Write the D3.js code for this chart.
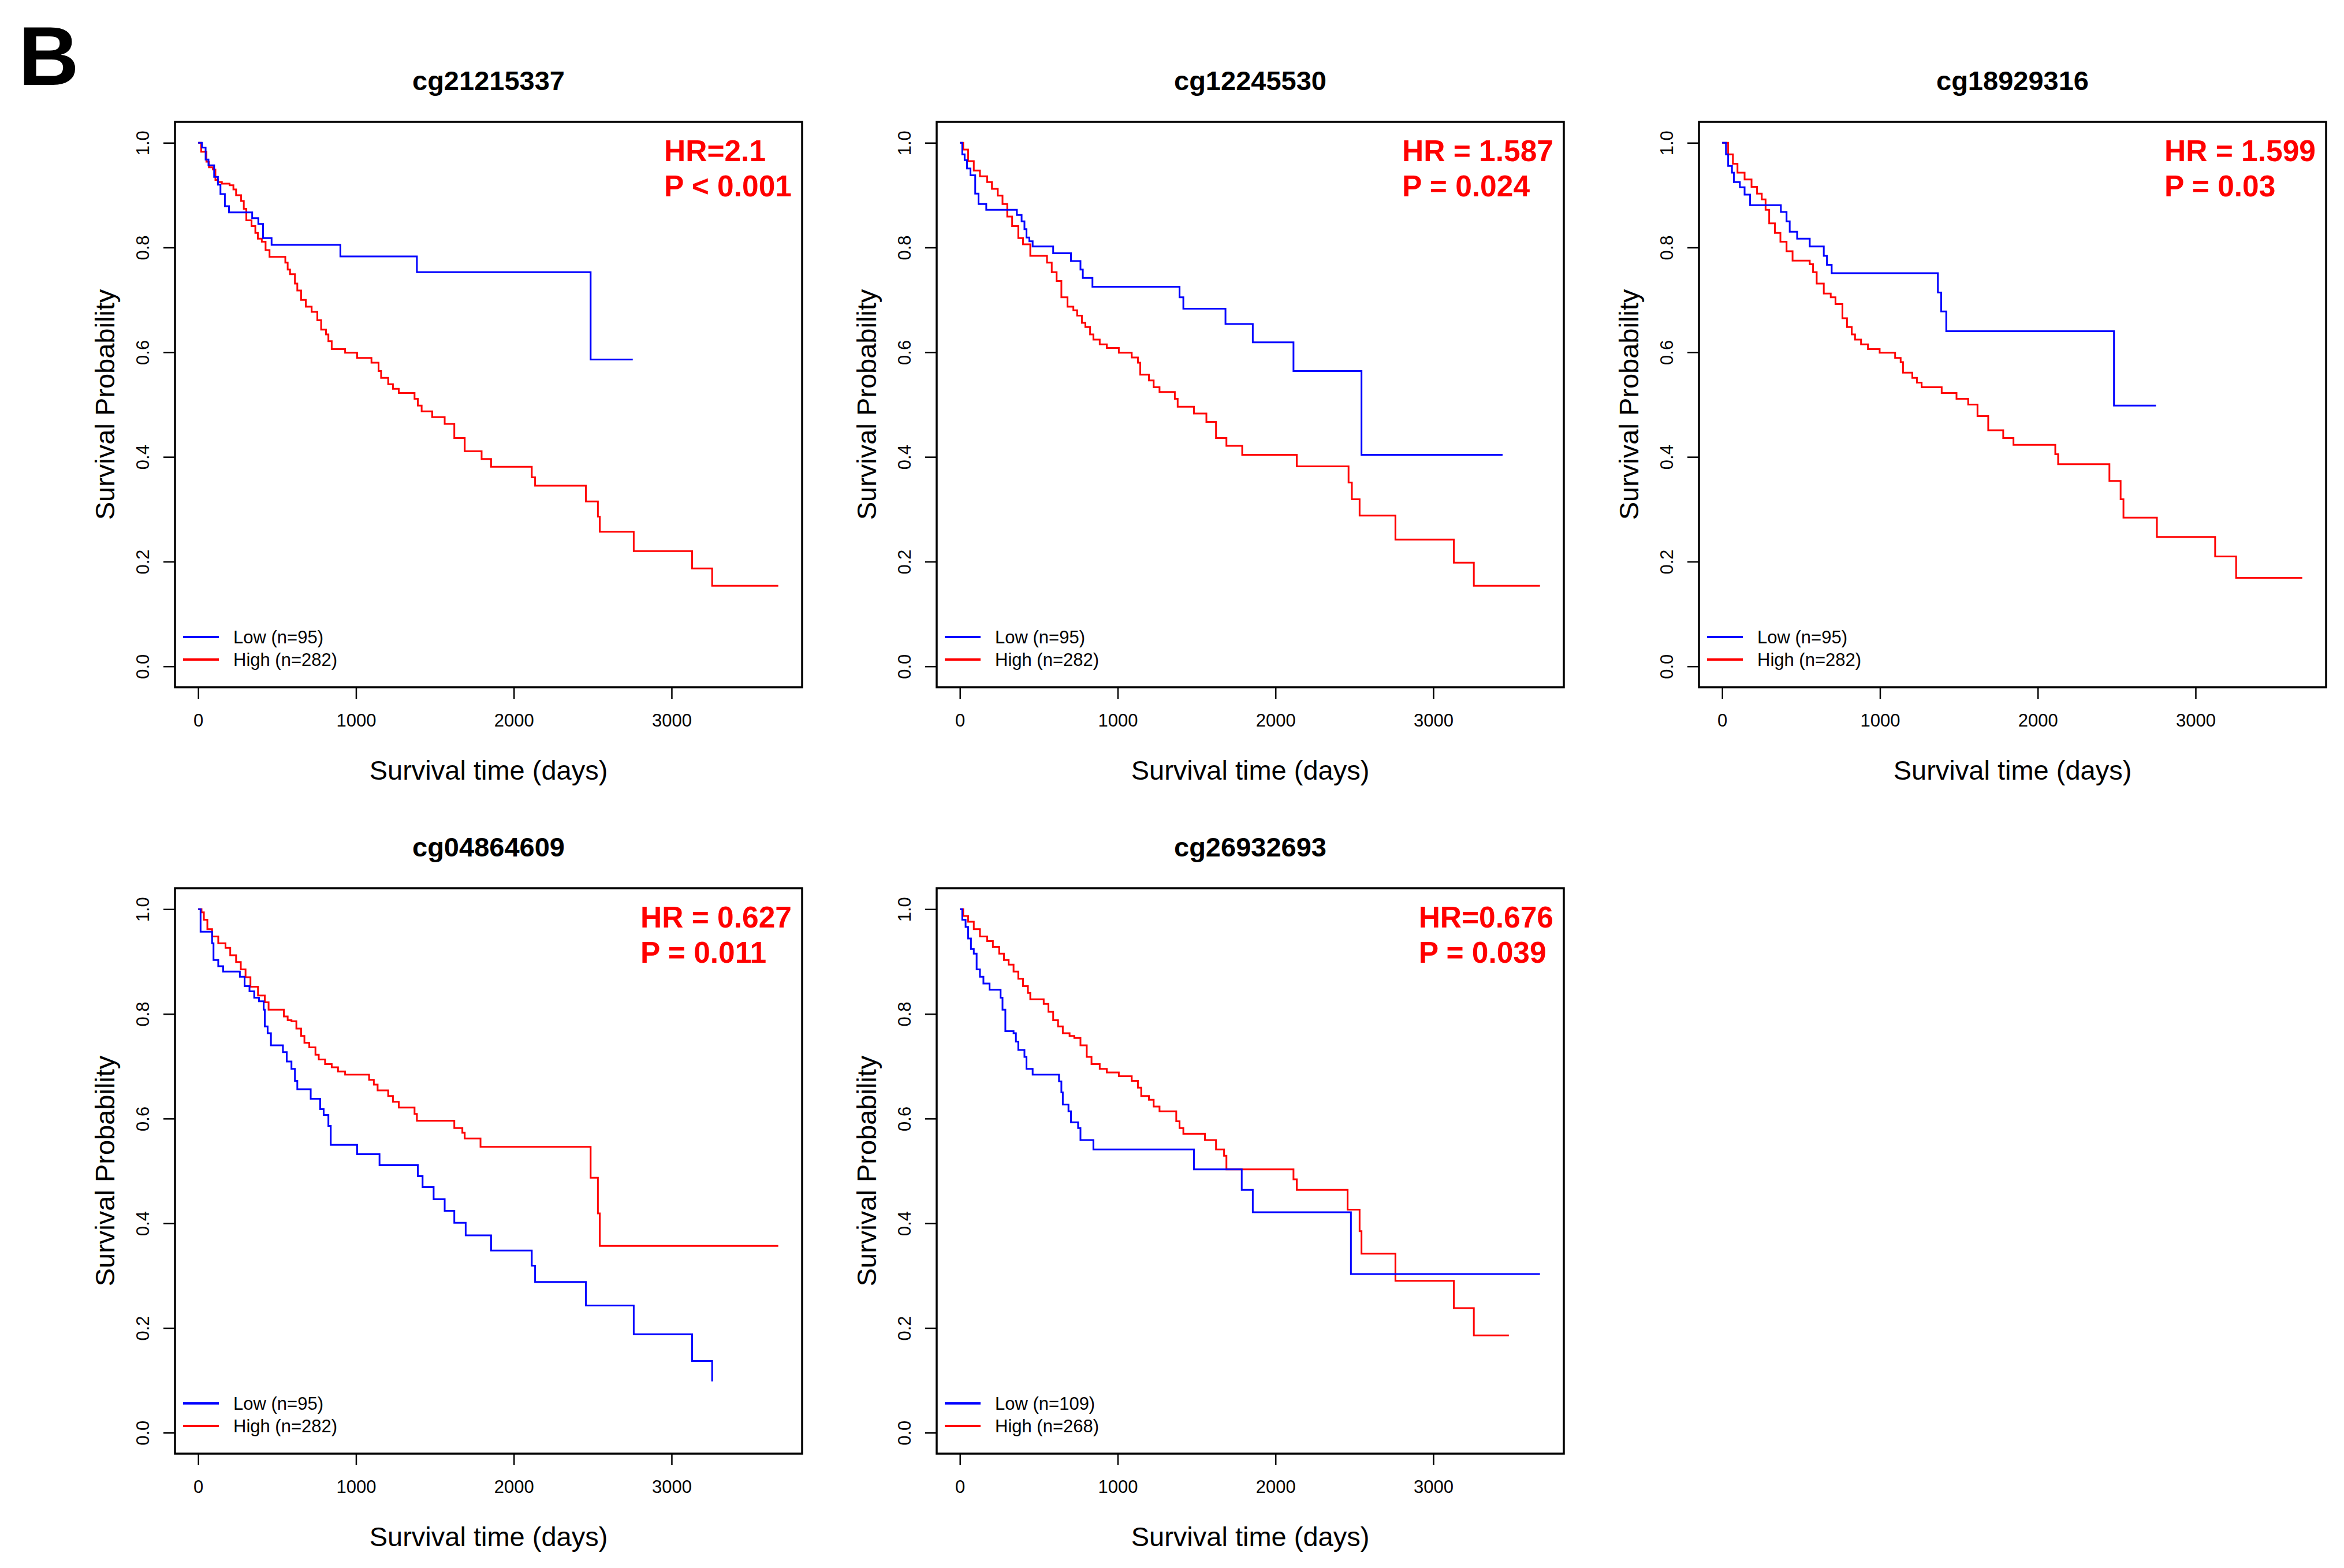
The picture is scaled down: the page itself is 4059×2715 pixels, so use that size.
<!DOCTYPE html>
<meta charset="utf-8">
<script src="https://cdn.jsdelivr.net/npm/d3@7"></script>
<style>
  body { margin: 0; background: #fff; }
  text { font-family: "Liberation Sans", Arial, Helvetica, sans-serif; }
</style>
<body>
<script>

// panel texts
var titles = ["cg21215337", "cg12245530", "cg18929316", "cg04864609", "cg26932693"]
var hrText = ["HR=2.1", "HR = 1.587", "HR = 1.599", "HR = 0.627", "HR=0.676"]
var pText = ["P < 0.001", "P = 0.024", "P = 0.03", "P = 0.011", "P = 0.039"]
var lowLabels = ["Low (n=95)", "Low (n=95)", "Low (n=95)", "Low (n=95)", "Low (n=109)"]
var highLabels = ["High (n=282)", "High (n=282)", "High (n=282)", "High (n=282)", "High (n=268)"]

var xTicks = [0, 1000, 2000, 3000]
var yTicks = [0, 0.2, 0.4, 0.6, 0.8, 1.0]

// Kaplan-Meier steps: drop times (days) and survival after each drop
var lowTimes = [
  [24, 47, 65, 101, 125, 141, 169, 195, 342, 381, 411, 465, 901, 1386, 2487],
  [15, 30, 45, 67, 97, 118, 167, 361, 391, 409, 422, 440, 461, 591, 704, 764, 779, 840, 1392, 1416, 1683, 1856, 2114, 2545],
  [24, 38, 62, 74, 112, 142, 177, 372, 408, 428, 475, 555, 644, 664, 694, 1367, 1388, 1420, 2483],
  [15, 88, 97, 127, 158, 264, 294, 325, 355, 385, 415, 422, 440, 461, 537, 561, 591, 613, 628, 713, 773, 795, 825, 840, 1007, 1149, 1392, 1422, 1492, 1562, 1623, 1695, 1856, 2114, 2135, 2457, 2760, 3130, 3257],
  [15, 36, 52, 70, 88, 106, 127, 149, 188, 258, 270, 288, 340, 355, 370, 409, 422, 461, 628, 643, 652, 688, 704, 749, 764, 846, 1483, 1786, 1856, 2478]
]
var lowSurv = [
  [0.991, 0.968, 0.957, 0.935, 0.92, 0.902, 0.879, 0.867, 0.856, 0.845, 0.818, 0.805, 0.783, 0.753, 0.586],
  [0.978, 0.967, 0.951, 0.938, 0.903, 0.883, 0.872, 0.862, 0.85, 0.835, 0.819, 0.812, 0.802, 0.789, 0.774, 0.758, 0.742, 0.725, 0.705, 0.683, 0.654, 0.619, 0.564, 0.404],
  [0.978, 0.956, 0.943, 0.925, 0.915, 0.901, 0.881, 0.868, 0.85, 0.83, 0.817, 0.802, 0.784, 0.767, 0.751, 0.714, 0.678, 0.64, 0.498],
  [0.957, 0.935, 0.903, 0.891, 0.881, 0.871, 0.853, 0.843, 0.831, 0.824, 0.808, 0.776, 0.763, 0.74, 0.727, 0.709, 0.695, 0.672, 0.656, 0.638, 0.618, 0.607, 0.586, 0.55, 0.532, 0.511, 0.49, 0.469, 0.446, 0.424, 0.401, 0.377, 0.348, 0.319, 0.288, 0.243, 0.188, 0.137, 0.098],
  [0.98, 0.966, 0.944, 0.924, 0.915, 0.885, 0.871, 0.858, 0.846, 0.831, 0.808, 0.767, 0.763, 0.747, 0.731, 0.718, 0.695, 0.684, 0.671, 0.65, 0.627, 0.614, 0.593, 0.582, 0.559, 0.541, 0.503, 0.464, 0.421, 0.303]
]
var lowEnd = [2754, 3439, 2749, 3257, 3676]

var highTimes = [
  [19, 52, 68, 93, 109, 125, 150, 199, 223, 240, 272, 289, 305, 338, 362, 378, 403, 427, 452, 552, 567, 582, 613, 628, 652, 682, 719, 755, 779, 810, 825, 846, 931, 1007, 1098, 1143, 1159, 1204, 1234, 1271, 1371, 1392, 1416, 1483, 1562, 1623, 1689, 1796, 1856, 2114, 2135, 2457, 2533, 2545, 2760, 3130, 3257],
  [21, 52, 88, 127, 173, 203, 240, 270, 300, 331, 370, 400, 446, 552, 582, 613, 643, 682, 719, 743, 773, 795, 825, 846, 886, 931, 1007, 1089, 1128, 1143, 1198, 1228, 1265, 1362, 1380, 1483, 1562, 1623, 1689, 1789, 2135, 2463, 2484, 2533, 2760, 3130, 3257],
  [38, 68, 97, 142, 186, 221, 251, 275, 298, 334, 369, 408, 446, 555, 576, 599, 644, 688, 718, 762, 791, 821, 842, 880, 924, 998, 1096, 1131, 1146, 1205, 1234, 1264, 1391, 1485, 1559, 1618, 1686, 1781, 1846, 2111, 2129, 2454, 2525, 2543, 2755, 3124, 3257],
  [21, 36, 58, 88, 127, 173, 203, 240, 270, 300, 331, 379, 422, 446, 543, 567, 591, 622, 652, 673, 704, 743, 764, 804, 846, 886, 931, 1083, 1113, 1137, 1204, 1234, 1271, 1371, 1386, 1623, 1674, 1689, 1789, 2487, 2533, 2545],
  [21, 52, 88, 127, 173, 209, 249, 279, 309, 340, 370, 400, 431, 446, 531, 561, 591, 622, 652, 695, 725, 764, 804, 834, 886, 931, 1007, 1089, 1128, 1149, 1198, 1228, 1265, 1371, 1392, 1416, 1553, 1623, 1674, 1689, 2114, 2135, 2457, 2533, 2545, 2760, 3130, 3257]
]
var highSurv = [
  [0.983, 0.964, 0.953, 0.949, 0.929, 0.925, 0.922, 0.919, 0.911, 0.9, 0.889, 0.874, 0.852, 0.841, 0.828, 0.817, 0.811, 0.795, 0.782, 0.771, 0.758, 0.749, 0.731, 0.718, 0.7, 0.687, 0.677, 0.661, 0.643, 0.634, 0.621, 0.606, 0.599, 0.589, 0.58, 0.564, 0.551, 0.539, 0.53, 0.522, 0.511, 0.498, 0.487, 0.476, 0.463, 0.436, 0.411, 0.396, 0.381, 0.361, 0.345, 0.315, 0.286, 0.257, 0.22, 0.187, 0.154],
  [0.987, 0.965, 0.947, 0.936, 0.925, 0.912, 0.899, 0.883, 0.859, 0.841, 0.818, 0.806, 0.784, 0.771, 0.753, 0.736, 0.705, 0.687, 0.68, 0.67, 0.656, 0.648, 0.634, 0.624, 0.615, 0.608, 0.599, 0.59, 0.58, 0.557, 0.546, 0.533, 0.524, 0.511, 0.496, 0.483, 0.467, 0.436, 0.421, 0.404, 0.382, 0.351, 0.319, 0.288, 0.242, 0.198, 0.154],
  [0.978, 0.96, 0.943, 0.93, 0.916, 0.903, 0.892, 0.872, 0.846, 0.828, 0.811, 0.793, 0.775, 0.768, 0.753, 0.731, 0.712, 0.705, 0.692, 0.665, 0.648, 0.634, 0.624, 0.615, 0.606, 0.599, 0.589, 0.581, 0.561, 0.551, 0.542, 0.533, 0.522, 0.511, 0.5, 0.478, 0.451, 0.436, 0.423, 0.405, 0.386, 0.354, 0.319, 0.284, 0.247, 0.21, 0.169],
  [0.994, 0.98, 0.962, 0.948, 0.935, 0.926, 0.912, 0.899, 0.885, 0.87, 0.852, 0.835, 0.822, 0.808, 0.795, 0.788, 0.786, 0.772, 0.758, 0.745, 0.736, 0.722, 0.713, 0.704, 0.698, 0.69, 0.684, 0.674, 0.665, 0.654, 0.643, 0.632, 0.621, 0.609, 0.596, 0.582, 0.573, 0.562, 0.546, 0.487, 0.419, 0.357],
  [0.987, 0.976, 0.962, 0.948, 0.939, 0.928, 0.915, 0.903, 0.894, 0.881, 0.867, 0.853, 0.84, 0.828, 0.819, 0.804, 0.788, 0.776, 0.763, 0.758, 0.754, 0.74, 0.718, 0.704, 0.695, 0.688, 0.681, 0.672, 0.659, 0.643, 0.636, 0.623, 0.614, 0.595, 0.582, 0.571, 0.559, 0.541, 0.529, 0.503, 0.484, 0.464, 0.426, 0.385, 0.342, 0.29, 0.238, 0.186]
]
var highEnd = [3676, 3676, 3676, 3676, 3479]

// layout
var W = 4059, H = 2715
var colLeft = [303, 1622, 2942]
var rowTop = [211, 1538]
var pw = 1086, ph = 979
var xMax = 3680
var lowColor = "#0000ff", highColor = "#ff0000"

var svg = d3.select("body").append("svg")
            .attr("width", W)
            .attr("height", H)
            .attr("viewBox", "0 0 " + W + " " + H)

svg.append("text")
   .attr("x", 32).attr("y", 147)
   .style("font-size", "145px").style("font-weight", "bold")
   .text("B")

var x = d3.scaleLinear().domain([-0.04 * xMax, 1.04 * xMax]).range([0, pw])
var y = d3.scaleLinear().domain([-0.04, 1.04]).range([ph, 0])

var line = d3.line()
             .x(function(d) { return x(d[0]) })
             .y(function(d) { return y(d[1]) })
             .curve(d3.curveStepAfter)

function kmPoints(times, surv, end) {
  var pts = [[0, 1]]
  times.forEach(function(t, i) { pts.push([t, surv[i]]) })
  pts.push([end, surv[surv.length - 1]])
  return pts
}

titles.forEach(function(title, i) {
  var g = svg.append("g")
             .attr("transform", "translate(" + colLeft[i % 3] + "," + rowTop[Math.floor(i / 3)] + ")")

  // curves
  g.append("path")
   .attr("d", line(kmPoints(highTimes[i], highSurv[i], highEnd[i])))
   .attr("fill", "none").attr("stroke", highColor).attr("stroke-width", 3)
  g.append("path")
   .attr("d", line(kmPoints(lowTimes[i], lowSurv[i], lowEnd[i])))
   .attr("fill", "none").attr("stroke", lowColor).attr("stroke-width", 3)

  // box
  g.append("rect")
   .attr("width", pw).attr("height", ph)
   .attr("fill", "none").attr("stroke", "#000").attr("stroke-width", 3.5)

  // x axis
  var xa = g.append("g")
            .attr("transform", "translate(0," + ph + ")")
            .call(d3.axisBottom(x).tickValues(xTicks).tickSize(20).tickFormat(d3.format("d")))
  xa.select(".domain").remove()
  xa.selectAll("line").attr("stroke-width", 2.5)
  xa.selectAll("text").attr("y", 68).attr("dy", null)
    .style("font-size", "31px").style("font-family", "Liberation Sans, Arial").attr("fill", "#000")

  // y axis
  var ya = g.append("g")
            .call(d3.axisLeft(y).tickValues(yTicks).tickSize(20).tickFormat(d3.format(".1f")))
  ya.select(".domain").remove()
  ya.selectAll("line").attr("stroke-width", 2.5)
  ya.selectAll("text")
    .attr("transform", "rotate(-90)")
    .attr("x", 0).attr("y", -45).attr("dy", null)
    .attr("text-anchor", "middle")
    .style("font-size", "31px").style("font-family", "Liberation Sans, Arial").attr("fill", "#000")

  // titles and labels
  g.append("text")
   .attr("x", pw / 2).attr("y", -55)
   .attr("text-anchor", "middle")
   .style("font-size", "47px").style("font-weight", "bold")
   .text(title)
  g.append("text")
   .attr("x", pw / 2).attr("y", ph + 160)
   .attr("text-anchor", "middle")
   .style("font-size", "47px")
   .text("Survival time (days)")
  g.append("text")
   .attr("transform", "translate(-105," + (ph / 2) + ") rotate(-90)")
   .attr("text-anchor", "middle")
   .style("font-size", "47px")
   .text("Survival Probability")

  // HR / P block, left aligned, pushed to the top right corner
  var hr = g.append("text").attr("y", 68)
            .style("font-size", "51.5px").style("font-weight", "bold").attr("fill", "#ff0000")
            .text(hrText[i])
  var pv = g.append("text").attr("y", 129)
            .style("font-size", "51.5px").style("font-weight", "bold").attr("fill", "#ff0000")
            .text(pText[i])
  var wmax = Math.max(hr.node().getComputedTextLength(), pv.node().getComputedTextLength())
  hr.attr("x", pw - 18 - wmax)
  pv.attr("x", pw - 18 - wmax)

  // legend
  var leg = [[lowLabels[i], lowColor, ph - 87], [highLabels[i], highColor, ph - 48]]
  leg.forEach(function(d) {
    g.append("line")
     .attr("x1", 14).attr("x2", 76).attr("y1", d[2]).attr("y2", d[2])
     .attr("stroke", d[1]).attr("stroke-width", 4)
    g.append("text")
     .attr("x", 101).attr("y", d[2]).attr("dy", "0.35em")
     .style("font-size", "31px")
     .text(d[0])
  })
})

</script>
</body>
